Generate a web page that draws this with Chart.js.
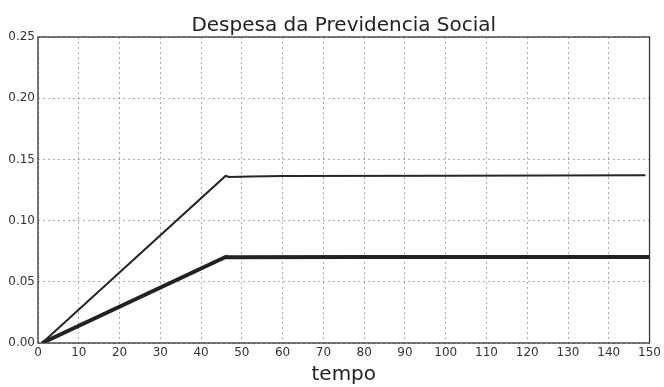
<!DOCTYPE html>
<html>
<head>
<meta charset="utf-8">
<script src="https://cdn.jsdelivr.net/npm/chart.js@4/dist/chart.umd.min.js"></script>
<style>
  html, body { margin: 0; padding: 0; background: #fff; }
  #wrap { width: 664px; height: 387px; }
</style>
</head>
<body>
<div id="wrap"><canvas id="chart"></canvas></div>
<script>
// x ticks / y ticks
const xTicks = [0, 10, 20, 30, 40, 50, 60, 70, 80, 90, 100, 110, 120, 130, 140, 150];
const yTicks = [0.00, 0.05, 0.10, 0.15, 0.20, 0.25];

// serie 1: linha fina
const tempo1 = [1, 46, 47, 52, 60, 100, 149];
const despesa1 = [0.0, 0.1365, 0.1357, 0.1360, 0.1364, 0.1366, 0.137];

// serie 2: linha grossa
const tempo2 = [1, 46, 47, 80, 120, 150];
const despesa2 = [0.0, 0.0703, 0.0700, 0.0703, 0.0702, 0.0703];

const titulo = 'Despesa da Previdencia Social';

// moldura e titulo centrado na area do grafico (estilo matplotlib)
const moldura = {
  id: 'moldura',
  afterDatasetsDraw(chart) {
    const a = chart.chartArea, ctx = chart.ctx;
    ctx.save();
    ctx.strokeStyle = '#333';
    ctx.lineWidth = 1.3;
    ctx.strokeRect(a.left, a.top, a.right - a.left, a.bottom - a.top);
    ctx.fillStyle = '#222';
    ctx.font = '20px "DejaVu Sans"';
    ctx.textAlign = 'center';
    ctx.textBaseline = 'alphabetic';
    ctx.fillText(titulo, (a.left + a.right) / 2, a.top - 6);
    ctx.restore();
  }
};

const grade = {
  color: '#aaa',
  lineWidth: 1,
  drawTicks: false
};

new Chart(document.getElementById('chart'), {
  type: 'line',
  data: {
    datasets: [
      {
        data: tempo1.map((x, i) => ({ x: x, y: despesa1[i] })),
        borderColor: '#262626',
        borderWidth: 2,
        pointRadius: 0,
        tension: 0,
        fill: false
      },
      {
        data: tempo2.map((x, i) => ({ x: x, y: despesa2[i] })),
        borderColor: '#222',
        borderWidth: 4,
        pointRadius: 0,
        tension: 0,
        fill: false
      }
    ]
  },
  options: {
    responsive: true,
    maintainAspectRatio: false,
    animation: false,
    layout: { padding: { left: 0, right: 14, top: 37, bottom: 0 } },
    plugins: {
      legend: { display: false },
      title: { display: false },
      tooltip: { enabled: false }
    },
    scales: {
      x: {
        type: 'linear',
        min: 0,
        max: 150,
        afterBuildTicks(s) { s.ticks = xTicks.map(v => ({ value: v })); },
        afterFit(s) { s.height = 44; },
        grid: Object.assign({}, grade),
        border: { display: false, dash: [2, 3] },
        ticks: { color: '#333', font: { family: 'DejaVu Sans', size: 12 }, padding: 3, maxRotation: 0 },
        title: {
          display: true,
          text: 'tempo',
          color: '#222',
          font: { family: 'DejaVu Sans', size: 20 },
          padding: { top: 0, bottom: 0 }
        }
      },
      y: {
        min: 0,
        max: 0.25,
        afterBuildTicks(s) { s.ticks = yTicks.map(v => ({ value: v })); },
        afterFit(s) { s.width = 38; },
        grid: Object.assign({}, grade),
        border: { display: false, dash: [2, 3] },
        ticks: {
          color: '#333',
          font: { family: 'DejaVu Sans', size: 12 },
          padding: 3,
          callback: v => v.toFixed(2)
        }
      }
    }
  },
  plugins: [moldura]
});
</script>
</body>
</html>
